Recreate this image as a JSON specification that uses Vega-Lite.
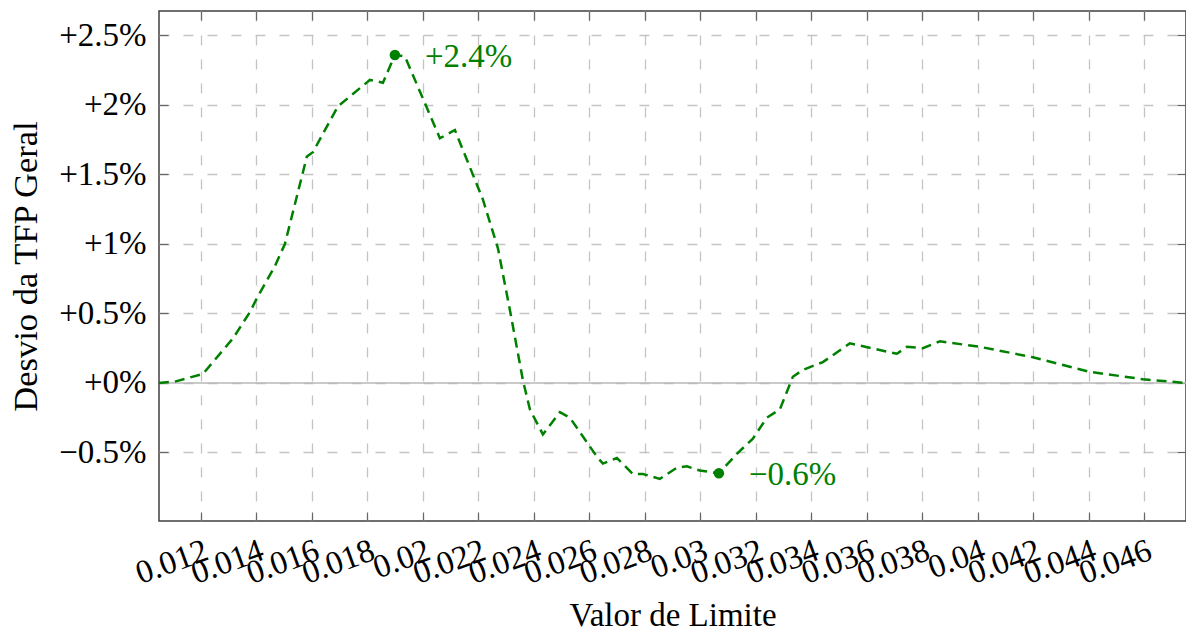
{
  "$schema": "https://vega.github.io/schema/vega-lite/v6.json",
  "width": 1027,
  "height": 510,
  "autosize": "none",
  "padding": {"left": 159, "top": 11, "right": 0, "bottom": 114},
  "background": "white",
  "config": {
    "view": {"stroke": "#404040", "strokeWidth": 1.5},
    "font": "Liberation Serif",
    "axis": {"labelColor": "black", "titleColor": "black", "titleFontWeight": "normal", "domain": false, "tickColor": "#666666", "tickWidth": 1.2, "gridColor": "#c4c4c4", "gridDash": [10, 14], "gridWidth": 1.3}
  },
  "datasets": {
    "curve": [
      {"x": 0.010486, "y": 0.0},
      {"x": 0.011063, "y": 0.01},
      {"x": 0.012072, "y": 0.065},
      {"x": 0.013153, "y": 0.32},
      {"x": 0.013766, "y": 0.51},
      {"x": 0.014018, "y": 0.61},
      {"x": 0.014667, "y": 0.84},
      {"x": 0.015027, "y": 1.0},
      {"x": 0.01582, "y": 1.63},
      {"x": 0.016036, "y": 1.66},
      {"x": 0.016937, "y": 1.99},
      {"x": 0.01809, "y": 2.18},
      {"x": 0.018559, "y": 2.16},
      {"x": 0.018991, "y": 2.36},
      {"x": 0.019351, "y": 2.35},
      {"x": 0.020613, "y": 1.76},
      {"x": 0.021153, "y": 1.82},
      {"x": 0.022162, "y": 1.32},
      {"x": 0.022703, "y": 0.97},
      {"x": 0.023135, "y": 0.525},
      {"x": 0.023604, "y": 0.02},
      {"x": 0.023856, "y": -0.19},
      {"x": 0.024324, "y": -0.37},
      {"x": 0.024937, "y": -0.21},
      {"x": 0.025297, "y": -0.25},
      {"x": 0.02627, "y": -0.53},
      {"x": 0.026486, "y": -0.58},
      {"x": 0.026991, "y": -0.54},
      {"x": 0.027568, "y": -0.655},
      {"x": 0.027928, "y": -0.655},
      {"x": 0.028541, "y": -0.69},
      {"x": 0.029153, "y": -0.61},
      {"x": 0.029514, "y": -0.6},
      {"x": 0.029982, "y": -0.63},
      {"x": 0.030667, "y": -0.65},
      {"x": 0.031315, "y": -0.51},
      {"x": 0.031892, "y": -0.4},
      {"x": 0.032396, "y": -0.25},
      {"x": 0.032865, "y": -0.19},
      {"x": 0.033333, "y": 0.045},
      {"x": 0.033694, "y": 0.094},
      {"x": 0.034414, "y": 0.15},
      {"x": 0.035387, "y": 0.285},
      {"x": 0.037081, "y": 0.21},
      {"x": 0.037441, "y": 0.26},
      {"x": 0.038018, "y": 0.25},
      {"x": 0.038631, "y": 0.3},
      {"x": 0.040072, "y": 0.26},
      {"x": 0.041982, "y": 0.185},
      {"x": 0.044036, "y": 0.08},
      {"x": 0.045946, "y": 0.027},
      {"x": 0.047495, "y": 0.0}
    ],
    "extremes": [
      {"x": 0.018991, "y": 2.36, "label": "+2.4%"},
      {"x": 0.030667, "y": -0.65, "label": "−0.6%"}
    ]
  },
  "layer": [
    {
      "data": {"values": [{"z": 0}]},
      "mark": {"type": "rule", "color": "#b8b8b8", "strokeWidth": 1.5},
      "encoding": {
        "y": {"field": "z", "type": "quantitative", "axis": null}
      }
    },
    {
      "data": {"name": "curve"},
      "mark": {"type": "line", "color": "#008000", "strokeWidth": 2.5, "strokeDash": [10, 6]},
      "encoding": {
        "x": {
          "field": "x", "type": "quantitative",
          "scale": {"domain": [0.01049, 0.0475], "nice": false, "zero": false},
          "axis": {
            "orient": "bottom", "title": "Valor de Limite",
            "values": [0.012, 0.014, 0.016, 0.018, 0.02, 0.022, 0.024, 0.026, 0.028, 0.03, 0.032, 0.034, 0.036, 0.038, 0.04, 0.042, 0.044, 0.046],
            "labelExpr": "'' + datum.value",
            "labelAngle": -20, "labelAlign": "right", "labelBaseline": "top",
            "labelFontSize": 33, "labelPadding": 22, "labelFlush": false, "labelOverlap": false,
            "tickSize": -9, "grid": true,
            "titleFontSize": 33, "titleY": 104, "titleBaseline": "alphabetic"
          }
        },
        "y": {
          "field": "y", "type": "quantitative",
          "scale": {"domain": [-0.993, 2.676], "nice": false, "zero": false},
          "axis": {
            "orient": "left", "title": "Desvio da TFP Geral",
            "values": [-0.5, 0, 0.5, 1, 1.5, 2, 2.5],
            "labelExpr": "datum.value > 0 ? '+' + datum.value + '%' : (datum.value < 0 ? '−' + abs(datum.value) + '%' : '+0%')",
            "labelFontSize": 33, "labelPadding": 22,
            "tickSize": -9, "grid": true,
            "titleFontSize": 34.5, "titleAngle": 270, "titleX": -123, "titleY": 255, "titleBaseline": "alphabetic"
          }
        }
      }
    },
    {
      "data": {"name": "extremes"},
      "mark": {"type": "point", "filled": true, "color": "#008000", "opacity": 1, "size": 110},
      "encoding": {
        "x": {
          "field": "x", "type": "quantitative",
          "axis": {"orient": "top", "title": null, "labels": false, "grid": false, "tickSize": -9,
            "values": [0.012, 0.014, 0.016, 0.018, 0.02, 0.022, 0.024, 0.026, 0.028, 0.03, 0.032, 0.034, 0.036, 0.038, 0.04, 0.042, 0.044, 0.046]}
        },
        "y": {
          "field": "y", "type": "quantitative",
          "axis": {"orient": "right", "title": null, "labels": false, "grid": false, "tickSize": -9,
            "values": [-0.5, 0, 0.5, 1, 1.5, 2, 2.5]}
        }
      }
    },
    {
      "data": {"name": "extremes"},
      "mark": {"type": "text", "align": "left", "baseline": "middle", "dx": 30, "dy": 2, "fontSize": 33, "color": "#008000"},
      "encoding": {
        "x": {"field": "x", "type": "quantitative", "axis": null},
        "y": {"field": "y", "type": "quantitative", "axis": null},
        "text": {"field": "label"}
      }
    }
  ],
  "resolve": {"axis": {"x": "independent", "y": "independent"}}
}
